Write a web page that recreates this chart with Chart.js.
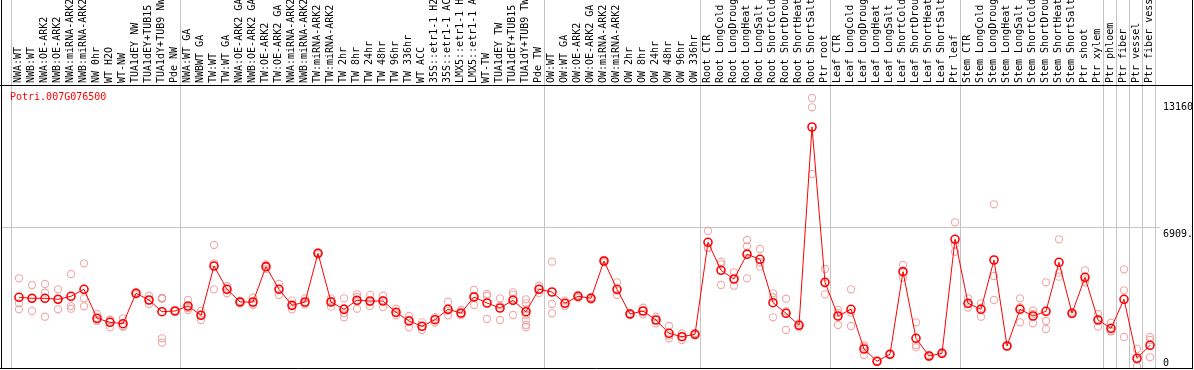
<!DOCTYPE html>
<html><head><meta charset="utf-8">
<script src="https://cdn.jsdelivr.net/npm/chart.js@4/dist/chart.umd.min.js"></script>
<style>html,body{margin:0;padding:0;background:#fff;overflow:hidden}</style>
</head><body>
<canvas id="c" width="1194" height="370" style="display:block;width:1194px;height:370px"></canvas>
<script>
const geneId = 'Potri.007G076500';

const categories = [
  'NWA:WT','NWB:WT','NWA:OE-ARK2','NWB:OE-ARK2','NWA:miRNA-ARK2','NWB:miRNA-ARK2','NW 0hr','WT H2O','WT-NW','TUA1dEY NW','TUA1dEY+TUB15 NW','TUA1dY+TUB9 NW','Pde NW',
  'NWA:WT GA','NWBWT GA','TW:WT','TW:WT GA','NWA:OE-ARK2 GA','NWB:OE-ARK2 GA','TW:OE-ARK2','TW:OE-ARK2 GA','NWA:miRNA-ARK2','NWB:miRNA-ARK2','TW:miRNA-ARK2','TW:miRNA-ARK2',
  'TW 2hr','TW 8hr','TW 24hr','TW 48hr','TW 96hr','TW 336hr','WT ACC','35S::etr1-1 H2O','35S::etr1-1 ACC','LMX5::etr1-1 H2O','LMX5::etr1-1 ACC','WT-TW','TUA1dEY TW','TUA1dEY+TUB15 TW','TUA1dY+TUB9 TW','Pde TW',
  'OW:WT','OW:WT GA','OW:OE-ARK2','OW:OE-ARK2 GA','OW:miRNA-ARK2','OW:miRNA-ARK2','OW 2hr','OW 8hr','OW 24hr','OW 48hr','OW 96hr','OW 336hr',
  'Root CTR','Root LongCold','Root LongDrought','Root LongHeat','Root LongSalt','Root ShortCold','Root ShortDrought','Root ShortHeat','Root ShortSalt','Ptr root',
  'Leaf CTR','Leaf LongCold','Leaf LongDrought','Leaf LongHeat','Leaf LongSalt','Leaf ShortCold','Leaf ShortDrought','Leaf ShortHeat','Leaf ShortSalt','Ptr leaf',
  'Stem CTR','Stem LongCold','Stem LongDrought','Stem LongHeat','Stem LongSalt','Stem ShortCold','Stem ShortDrought','Stem ShortHeat','Stem ShortSalt','Ptr shoot',
  'Ptr xylem','Ptr phloem','Ptr fiber','Ptr vessel','Ptr fiber vessel'
];

const means = [
  3483,3433,3433,3384,3532,3877,2448,2251,2182,3680,3350,2773,2808,
  3054,2596,5025,3877,3251,3251,4992,3877,3087,3251,5650,3251,
  2892,3335,3300,3300,2744,2315,2054,2380,2892,2709,3498,3202,2956,3335,2773,3877,
  3744,3187,3532,3433,5271,3877,2660,2808,2365,1709,1542,1660,
  6192,4813,4384,5601,5355,3217,2694,2103,11872,4222,
  2562,2892,936,330,675,4745,1463,591,724,6340,
  3187,2892,5320,1084,2892,2562,2793,5207,2694,4468,
  2365,1956,3384,478,1118
];

const replicates = [
  [4419,3187,2892],[4089,2808,3433],[4138,3709,2527],[3877,2892,3384],[4631,3054,2921],[5158,3433,3039],
  [2660,2330,2350],[2365,2005,2380],[2448,2034,2060],[3750,3620,3670],[3562,3153,3335],
  [3450,3433,3420,3440,1463,1246],[2808,2790,2830],
  [3350,2857,2955],[2808,2365,2615],[6059,5158,3877],[4039,3680,3910],[3300,3200,3250],[3463,3103,3190],
  [5100,4880,4990],[4138,3596,3897],[3317,2892,3050],[3433,3130,3190],[5700,5600,5650],[3433,3020,3300],
  [3433,2694,2497,2945],[3630,3500,2921,3290],[3600,3050,3250],[3560,3000,3340],[2921,2600,2710],
  [2562,2005,2380],[2250,1872,2040],[2500,2240,2400],[3266,2596,2815],[2857,2596,2674],[3842,3103,3550],
  [3645,2414,3547],[3433,2365,3070],[3729,3600,2611,3400],[3384,3187,2900,2611,2365,2118,2005],[4054,3700,3877],
  [5236,3153,2694],[3320,3050,3190],[3600,3460,3532],[3500,3360,3433],[5330,5210,5271],[4222,3596,3813],
  [2700,2620,2660],[2970,2645,2810],[2527,2200,2365],[2069,1463,1595],[1700,1380,1546],[1720,1600,1660],
  [6749,5926,5900],[5236,5108,4089],[4714,4054,4384],[6305,5995,4419,5685],[5862,4992,5210],
  [3680,2497,3474],[3414,1872,2796],[2200,2000,2103],[13300,12842,9557],[4877,3630,4160],
  [2857,2118,2710],[3877,2069,2730],[1050,640,1118],[330,320,345],[700,650],[5074,4448,4713],
  [2251,1133,1018],[640,540,595],[760,690],[7177,6094,5729],
  [3433,3150,2980],[3187,2527,2960],[8064,4532,3350],[1084,1084],[3433,2992,2251],[2823,2202,2660],
  [4222,2315,1921],[6340,4695,4498],[2740,2650],[4813,4222,4370],
  [2660,2034,2400],[2232,1800,1836],[4862,3828,1527],[936,84,414],[1527,1379,527]
];

// last category index of each separated group
const groupEnds = [12, 40, 52, 62, 72, 83, 84, 85, 86, 87];

const yTickValues = [0, 6909.5, 13160];
const yTickLabels = ['0', '6909.', '13160'];

// ---- build chart ----
const meanPoints = means.map((v, i) => ({x: i, y: v}));
const repPoints = [];
replicates.forEach((arr, i) => arr.forEach(v => repPoints.push({x: i, y: v})));

const boundaries = [-1].concat(groupEnds).map(i => i + 0.4);
const isBoundary = v => boundaries.some(b => Math.abs(b - v) < 1e-6);

const MONO = '"DejaVu Sans Mono", "Liberation Mono", monospace';
const GRID = '#c4c4c4';

const noPad = s => { s.paddingLeft = 0; s.paddingRight = 0; s.paddingTop = 0; s.paddingBottom = 0; };

const framePlugin = {
  id: 'frame',
  afterDraw(chart) {
    const {ctx, chartArea: a, scales} = chart;
    const right = scales.y.right;
    ctx.save();
    ctx.strokeStyle = '#000';
    ctx.lineWidth = 1;
    ctx.beginPath();
    ctx.moveTo(a.left + 0.5, 0); ctx.lineTo(a.left + 0.5, a.bottom + 1);
    ctx.moveTo(0, a.top + 0.5); ctx.lineTo(right + 1, a.top + 0.5);
    ctx.moveTo(0, a.bottom + 0.5); ctx.lineTo(right + 1, a.bottom + 0.5);
    ctx.moveTo(right + 0.5, 0); ctx.lineTo(right + 0.5, a.bottom + 1);
    ctx.stroke();
    ctx.fillStyle = '#ff0000';
    ctx.font = '10px ' + MONO;
    ctx.textBaseline = 'alphabetic';
    ctx.textAlign = 'left';
    ctx.fillText(geneId, a.left + 9, a.top + 15);
    ctx.restore();
  }
};

const PX = 13;           // px per category
const AREA_LEFT = 1, AREA_RIGHT = 1160;
const xMin = -18 / PX;
const xMax = xMin + (AREA_RIGHT - AREA_LEFT) / PX;

new Chart(document.getElementById('c'), {
  type: 'line',
  data: {
    datasets: [
      {
        label: 'mean',
        data: meanPoints,
        borderColor: '#ff0000',
        borderWidth: 1,
        pointRadius: 4,
        pointBorderWidth: 1.6,
        pointBorderColor: '#ff0000',
        pointBackgroundColor: 'rgba(255,255,255,0)',
        tension: 0
      },
      {
        label: 'replicates',
        data: repPoints,
        showLine: false,
        pointRadius: 3.6,
        pointBorderWidth: 1.1,
        pointBorderColor: 'rgba(236,150,150,0.8)',
        pointBackgroundColor: 'rgba(255,255,255,0)'
      }
    ]
  },
  options: {
    responsive: false,
    animation: false,
    devicePixelRatio: 1,
    layout: {autoPadding: false, padding: {left: AREA_LEFT, right: 2, top: 0, bottom: 2}},
    plugins: {legend: {display: false}, tooltip: {enabled: false}, title: {display: false}},
    scales: {
      x: {
        type: 'linear',
        position: 'top',
        min: xMin,
        max: xMax,
        afterBuildTicks: s => {
          const t = categories.map((_, i) => ({value: i})).concat(boundaries.map(b => ({value: b})));
          t.sort((p, q) => p.value - q.value);
          s.ticks = t;
        },
        afterFit: s => { s.height = 85; noPad(s); },
        grid: {
          color: c => (c.tick && isBoundary(c.tick.value)) ? GRID : 'rgba(0,0,0,0)',
          tickColor: c => (c.tick && isBoundary(c.tick.value)) ? GRID : 'rgba(0,0,0,0)',
          tickLength: 85,
          drawTicks: true,
          lineWidth: 1
        },
        border: {display: false},
        ticks: {
          autoSkip: false,
          minRotation: 90,
          maxRotation: 90,
          padding: -83,
          labelOffset: 11,
          color: '#000',
          font: {family: MONO, size: 10},
          callback: v => Number.isInteger(v) ? categories[v] : ''
        }
      },
      y: {
        type: 'linear',
        position: 'right',
        min: 0,
        max: 13940,
        afterBuildTicks: s => { s.ticks = yTickValues.map(v => ({value: v})); },
        afterFit: s => { s.width = 32; noPad(s); },
        grid: {
          color: c => (c.tick && c.tick.value === yTickValues[1]) ? GRID : 'rgba(0,0,0,0)',
          drawTicks: false,
          lineWidth: 1
        },
        border: {display: false},
        ticks: {
          padding: 3,
          labelOffset: 7,
          color: '#000',
          font: {family: MONO, size: 10},
          callback: (v, i) => i === 0 ? [yTickLabels[0], '', ''] : yTickLabels[i]
        }
      }
    }
  },
  plugins: [framePlugin]
});
</script>
</body></html>
